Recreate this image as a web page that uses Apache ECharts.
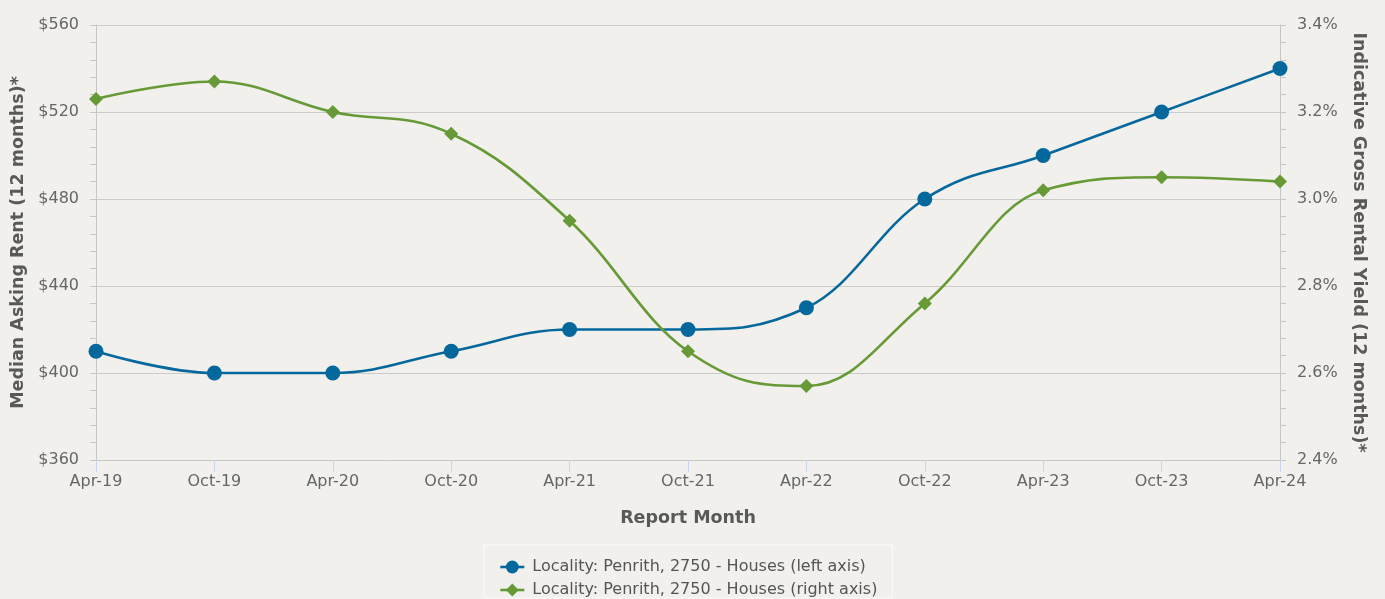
<!DOCTYPE html>
<html>
<head>
<meta charset="utf-8">
<script src="https://cdn.jsdelivr.net/npm/echarts@6/dist/echarts.min.js"></script>
<style>
  html, body { margin: 0; padding: 0; background: #f1f0ec; }
  #chart { width: 1385px; height: 599px; }
</style>
</head>
<body>
<div id="chart"></div>
<script>
// Report months along the x axis
const months = ['Apr-19', 'Oct-19', 'Apr-20', 'Oct-20', 'Apr-21', 'Oct-21',
                'Apr-22', 'Oct-22', 'Apr-23', 'Oct-23', 'Apr-24'];

// Median asking rent, $ per week (left axis)
const rentValues = [410, 400, 400, 410, 420, 420, 430, 480, 500, 520, 540];

// Indicative gross rental yield, % (right axis)
const yieldValues = [3.23, 3.27, 3.20, 3.15, 2.95, 2.65, 2.57, 2.76, 3.02, 3.05, 3.04];

const seriesNames = [
  'Locality: Penrith, 2750 - Houses (left axis)',
  'Locality: Penrith, 2750 - Houses (right axis)'
];

const FONT = '"DejaVu Sans", Verdana, sans-serif';
const BLUE = '#05689c';
const GREEN = '#679a36';
const AXIS_GREY = '#c6c6c6';
const LINE_W = 2.6;

// Spline through pixel points: control points at 0.4 of each segment,
// tangent flattened wherever a control point would overshoot a neighbour.
function splinePathData(pts) {
  const n = pts.length;
  const left = [], right = [];
  for (let i = 0; i < n; i++) {
    const [x, y] = pts[i];
    if (i === 0 || i === n - 1) { left.push([x, y]); right.push([x, y]); continue; }
    const [px, py] = pts[i - 1];
    const [nx, ny] = pts[i + 1];
    const lx = (1.5 * x + px) / 2.5, rx = (1.5 * x + nx) / 2.5;
    let ly = (1.5 * y + py) / 2.5, ry = (1.5 * y + ny) / 2.5;
    if (rx !== lx) {
      const corr = ((ry - ly) * (rx - x)) / (rx - lx) + y - ry;
      ly += corr; ry += corr;
    }
    if (ly > py && ly > y) { ly = Math.max(py, y); ry = 2 * y - ly; }
    else if (ly < py && ly < y) { ly = Math.min(py, y); ry = 2 * y - ly; }
    if (ry > ny && ry > y) { ry = Math.max(ny, y); ly = 2 * y - ry; }
    else if (ry < ny && ry < y) { ry = Math.min(ny, y); ly = 2 * y - ry; }
    left.push([lx, ly]); right.push([rx, ry]);
  }
  let d = 'M' + pts[0][0] + ' ' + pts[0][1];
  for (let i = 1; i < n; i++) {
    d += ' C' + right[i - 1][0] + ' ' + right[i - 1][1] + ' ' +
         left[i][0] + ' ' + left[i][1] + ' ' + pts[i][0] + ' ' + pts[i][1];
  }
  return d;
}

function splineSeries(name, values, axisIndex, color, z) {
  return {
    name: name,
    type: 'custom',
    yAxisIndex: axisIndex,
    z: z,
    silent: true,
    data: values.map((v, i) => [i, v]),
    encode: { x: 0, y: 1 },
    renderItem: function (params, api) {
      if (params.dataIndex !== 0) return null;
      const pts = values.map((v, i) => api.coord([i, v]));
      return {
        type: 'path',
        shape: { pathData: splinePathData(pts) },
        style: { fill: 'none', stroke: color, lineWidth: LINE_W, lineJoin: 'round', lineCap: 'round' }
      };
    }
  };
}

function markerSeries(name, values, axisIndex, color, symbol, size, z) {
  return {
    name: name,
    type: 'line',
    yAxisIndex: axisIndex,
    data: values,
    symbol: symbol,
    symbolSize: size,
    showAllSymbol: true,
    lineStyle: { color: color, width: 0, opacity: 0 },
    itemStyle: { color: color },
    z: z
  };
}

const chart = echarts.init(document.getElementById('chart'), null, { renderer: 'canvas' });

const yAxisCommon = {
  type: 'value',
  nameLocation: 'middle',
  nameTextStyle: { fontFamily: FONT, fontSize: 17.5, fontWeight: 'bold', color: '#595959' },
  axisLine: { show: true, lineStyle: { color: AXIS_GREY, width: 1 } },
  axisTick: { show: true, length: 6, lineStyle: { color: AXIS_GREY } },
  minorTick: { show: true, splitNumber: 5, length: 6, lineStyle: { color: AXIS_GREY } },
  axisLabel: { fontFamily: FONT, fontSize: 16, color: '#666', margin: 17 }
};

chart.setOption({
  backgroundColor: '#f1f0ec',
  animation: false,
  grid: { left: 96, right: 105, top: 25, bottom: 139, containLabel: false, outerBoundsMode: 'none' },
  xAxis: {
    type: 'category',
    data: months,
    boundaryGap: false,
    name: 'Report Month',
    nameLocation: 'middle',
    nameGap: 49,
    nameTextStyle: { fontFamily: FONT, fontSize: 17.5, fontWeight: 'bold', color: '#595959' },
    axisLine: { show: true, lineStyle: { color: AXIS_GREY, width: 1 } },
    axisTick: { show: true, length: 12, alignWithLabel: true, lineStyle: { color: '#ccd6eb' } },
    axisLabel: { fontFamily: FONT, fontSize: 16, color: '#666', margin: 14 },
    splitLine: { show: false }
  },
  yAxis: [
    Object.assign({}, yAxisCommon, {
      position: 'left',
      min: 360, max: 560, interval: 40,
      name: 'Median Asking Rent (12 months)*',
      nameGap: 69,
      axisLabel: Object.assign({}, yAxisCommon.axisLabel, { formatter: v => '$' + v }),
      splitLine: { show: true, lineStyle: { color: '#cbcbcb', width: 1 } }
    }),
    Object.assign({}, yAxisCommon, {
      position: 'right',
      min: 2.4, max: 3.4, interval: 0.2,
      name: 'Indicative Gross Rental Yield (12 months)*',
      nameGap: 70,
      nameRotate: -90,
      axisLabel: Object.assign({}, yAxisCommon.axisLabel, { formatter: v => v.toFixed(1) + '%' }),
      splitLine: { show: false }
    })
  ],
  legend: {
    orient: 'vertical',
    left: 484,
    top: 545,
    height: 80,
    itemWidth: 24,
    itemHeight: 16,
    itemGap: 7,
    padding: [14, 15, 0, 15],
    borderColor: '#fafaf8',
    borderWidth: 1,
    textStyle: { fontFamily: FONT, fontSize: 16, color: '#555', padding: [0, 0, 0, 3] },
    data: [
      { name: seriesNames[0], lineStyle: { color: BLUE, width: LINE_W, opacity: 1 } },
      { name: seriesNames[1], lineStyle: { color: GREEN, width: LINE_W, opacity: 1 } }
    ]
  },
  series: [
    markerSeries(seriesNames[0], rentValues, 0, BLUE, 'circle', 15, 3),
    markerSeries(seriesNames[1], yieldValues, 1, GREEN, 'diamond', 14, 5),
    splineSeries(seriesNames[0], rentValues, 0, BLUE, 2),
    splineSeries(seriesNames[1], yieldValues, 1, GREEN, 4)
  ]
});
</script>
</body>
</html>
